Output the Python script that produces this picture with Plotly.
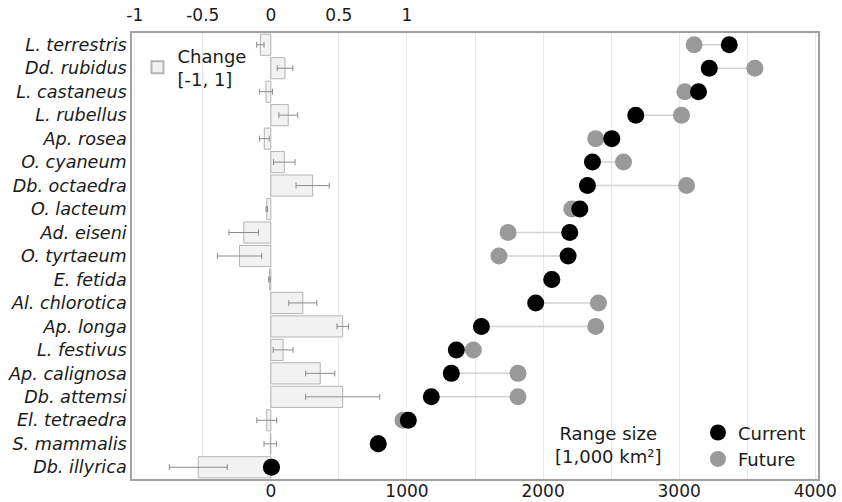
import plotly.graph_objects as go

species = ["L. terrestris", "Dd. rubidus", "L. castaneus", "L. rubellus", "Ap. rosea",
           "O. cyaneum", "Db. octaedra", "O. lacteum", "Ad. eiseni", "O. tyrtaeum",
           "E. fetida", "Al. chlorotica", "Ap. longa", "L. festivus", "Ap. calignosa",
           "Db. attemsi", "El. tetraedra", "S. mammalis", "Db. illyrica"]
change = [-0.077, 0.104, -0.036, 0.128, -0.048, 0.099, 0.307, -0.03, -0.199, -0.23,
          -0.01, 0.235, 0.528, 0.09, 0.363, 0.528, -0.03, -0.004, -0.533]
change_err = [0.027, 0.057, 0.048, 0.069, 0.036, 0.079, 0.122, 0.005, 0.109, 0.163,
              0.006, 0.103, 0.042, 0.073, 0.107, 0.272, 0.073, 0.046, 0.213]
current = [3368, 3221, 3142, 2681, 2505, 2363, 2326, 2270, 2196, 2184,
           2064, 1946, 1547, 1363, 1326, 1179, 1010, 789, 5]
future = [3110, 3556, 3042, 3017, 2387, 2591, 3054, 2211, 1743, 1676,
          2064, 2407, 2387, 1488, 1816, 1816, 971, 789, 3]
top_tick_vals = [-1, -0.5, 0, 0.5, 1]
top_tick_text = ["-1", "-0.5", "0", "0.5", "1"]
bottom_tick_vals = [0, 1000, 2000, 3000, 4000]
bottom_tick_text = ["0", "1000", "2000", "3000", "4000"]

FONT = "DejaVu Sans"
TXT = "#1a1a1a"

fig = go.Figure()

# Change bars (top axis, base subplot)
fig.add_trace(go.Bar(
    y=species, x=change, orientation="h",
    xaxis="x", yaxis="y",
    name="Change<br>[-1, 1]",
    marker=dict(color="#f2f2f2", line=dict(color="#b4b4b4", width=1)),
    error_x=dict(type="data", array=change_err, color="#8c8c8c", thickness=1, width=3),
    legend="legend",
    hoverinfo="skip",
))

# Connector lines
lx, ly = [], []
for s, c, f in zip(species, current, future):
    lx += [c, f, None]
    ly += [s, s, None]
fig.add_trace(go.Scatter(
    x=lx, y=ly, mode="lines", xaxis="x2", yaxis="y",
    line=dict(color="#d2d2d2", width=1.5), showlegend=False, hoverinfo="skip",
))

fig.add_trace(go.Scatter(
    x=future, y=species, mode="markers", xaxis="x2", yaxis="y",
    name="Future", marker=dict(color="#999999", size=17),
    legend="legend2", legendrank=2,
))
fig.add_trace(go.Scatter(
    x=current, y=species, mode="markers", xaxis="x2", yaxis="y",
    name="Current", marker=dict(color="#000000", size=17),
    legend="legend2", legendrank=1,
))

grid_vals = [-1, -0.5, 0, 0.5, 1, 1.5, 2, 2.5, 3, 3.5, 4]
grid_text = [top_tick_text[top_tick_vals.index(v)] if v in top_tick_vals else "" for v in grid_vals]

fig.update_layout(
    width=842, height=502,
    margin=dict(l=132, r=24, t=33, b=23),
    paper_bgcolor="white", plot_bgcolor="white",
    font=dict(family=FONT, size=18, color=TXT),
    bargap=0.1,
    xaxis=dict(
        side="top", range=[-1.02, 4.02],
        tickmode="array", tickvals=grid_vals, ticktext=grid_text,
        showgrid=True, gridcolor="#e9e9e9", gridwidth=1,
        zeroline=False, showline=True, mirror=True, linecolor="#a0a0a0", linewidth=1.5,
        ticks="", ticklabelstandoff=3, tickfont=dict(family=FONT, size=17, color=TXT),
        automargin=False, fixedrange=True,
    ),
    xaxis2=dict(
        side="bottom", overlaying="x", range=[-1020, 4020],
        tickmode="array", tickvals=bottom_tick_vals, ticktext=bottom_tick_text,
        showgrid=False, zeroline=False, showline=False,
        ticks="", ticklabelstandoff=0, tickfont=dict(family=FONT, size=17, color=TXT),
        automargin=False, fixedrange=True,
    ),
    yaxis=dict(
        categoryorder="array", categoryarray=species,
        range=[len(species) - 0.5, -0.5], autorange=False,
        tickmode="array", tickvals=species, ticktext=species,
        showgrid=False, zeroline=False, showline=True, mirror=True,
        linecolor="#a0a0a0", linewidth=1.5, ticks="",
        tickfont=dict(family=FONT, size=17.6, style="italic", color=TXT),
        automargin=False, fixedrange=True,
    ),
    legend=dict(
        x=0.008, y=0.99, xanchor="left", yanchor="top",
        bgcolor="rgba(0,0,0,0)", font=dict(family=FONT, size=18, color=TXT),
        itemsizing="constant", tracegroupgap=0,
    ),
    legend2=dict(
        x=0.825, y=0.145, xanchor="left", yanchor="top",
        bgcolor="rgba(0,0,0,0)", font=dict(family=FONT, size=18, color=TXT),
        itemsizing="trace", tracegroupgap=0,
    ),
    annotations=[dict(
        text="Range size<br>[1,000 km²]", xref="paper", yref="paper",
        x=0.694, y=0.076, xanchor="center", yanchor="middle", showarrow=False,
        font=dict(family=FONT, size=18, color=TXT), align="center",
    )],
    showlegend=True,
)

fig.write_html(
    "out.html",
    config={"displayModeBar": False},
    post_script="document.body.style.margin='0';document.body.style.overflow='hidden';",
)
